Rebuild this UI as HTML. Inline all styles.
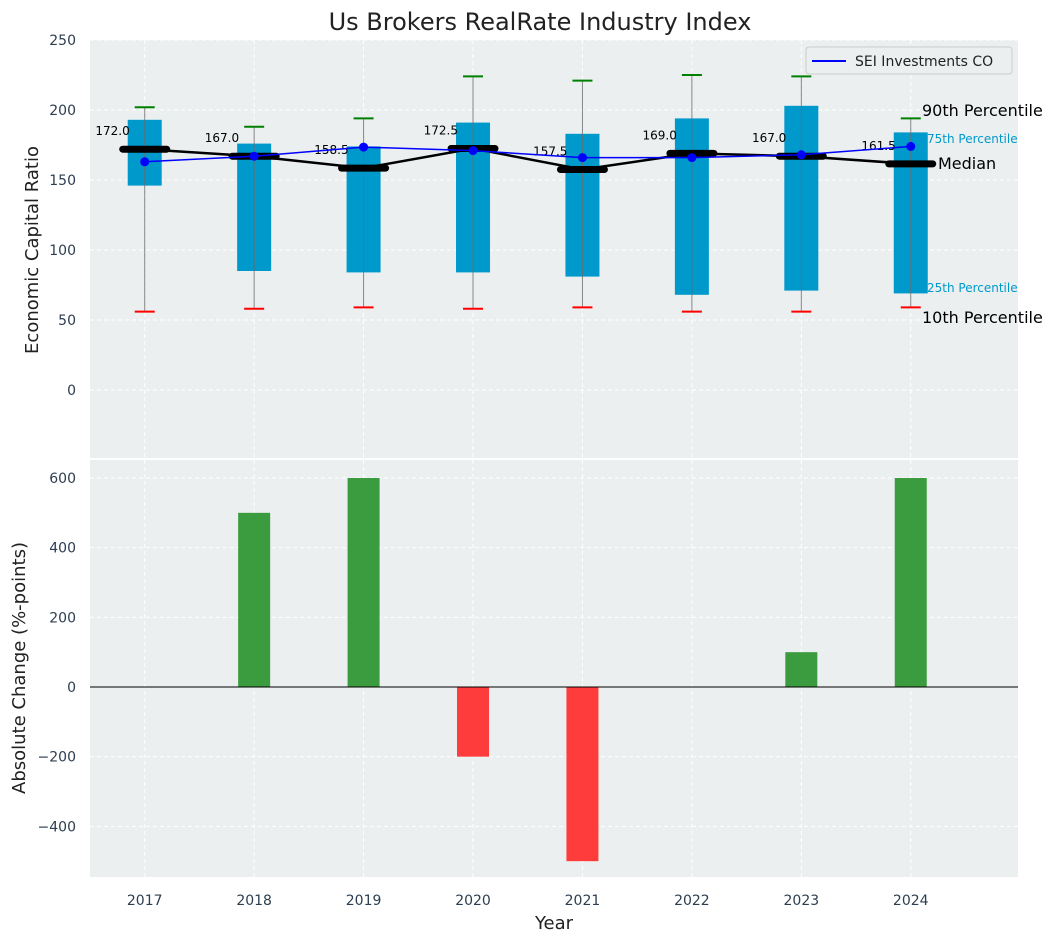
<!DOCTYPE html>
<html><head><meta charset="utf-8"><style>
body{margin:0;background:#fff;font-family:"DejaVu Sans","Liberation Sans",sans-serif;}
svg text{font-family:"DejaVu Sans","Liberation Sans",sans-serif;}
</style></head><body>
<svg id="c" width="1057" height="942" xmlns="http://www.w3.org/2000/svg">
<text x="540" y="30" font-size="24" text-anchor="middle" fill="#222">Us Brokers RealRate Industry Index</text>
<rect x="90" y="40" width="928" height="418" fill="#ebeff0"/>
<rect x="90" y="460" width="928" height="417" fill="#ebeff0"/>
<g id="gtop"></g><g id="gbot"></g>
<text x="38" y="250" font-size="18" fill="#222" text-anchor="middle" transform="rotate(-90 38 250)">Economic Capital Ratio</text>
<text x="25" y="668" font-size="18" fill="#222" text-anchor="middle" transform="rotate(-90 25 668)">Absolute Change (%-points)</text>
<text x="554" y="929" font-size="18" fill="#222" text-anchor="middle">Year</text>
<g>
<rect x="806" y="47" width="206" height="27" fill="#ebeff0" stroke="#ccc" rx="3"/>
<line x1="812" y1="61" x2="846" y2="61" stroke="#0000ff" stroke-width="2"/>
<text x="855" y="66" font-size="14" fill="#222">SEI Investments CO</text>
</g>
<text x="922" y="116" font-size="16" fill="#000">90th Percentile</text>
<text x="927" y="143" font-size="12" fill="#0099cc">75th Percentile</text>
<text x="938" y="169" font-size="16" fill="#000">Median</text>
<text x="927" y="292" font-size="12" fill="#0099cc">25th Percentile</text>
<text x="922" y="323" font-size="16" fill="#000">10th Percentile</text>
</svg>
<script>
const years=[2017,2018,2019,2020,2021,2022,2023,2024];
const p10=[56,58,59,58,59,56,56,59];
const p25=[146,85,84,84,81,68,71,69];
const median=[172.0,167.0,158.5,172.5,157.5,169.0,167.0,161.5];
const p75=[193,176,174,191,183,194,203,184];
const p90=[202,188,194,224,221,225,224,194];
const sei=[163,167,173.5,171,166,166,168,174];
const change=[0,500,600,-200,-500,0,100,600];
const topTicks=[0,50,100,150,200,250];
const botTicks=[-400,-200,0,200,400,600];
const NS='http://www.w3.org/2000/svg';
const X=v=>90+(v-2016.5)*(928/8.48);
const YT=v=>390-v*1.4;
const YB=v=>687-v*(209/600);
function el(p,t,a){const e=document.createElementNS(NS,t);for(const k in a)e.setAttribute(k,a[k]);p.appendChild(e);return e;}
const gT=document.getElementById('gtop'),gB=document.getElementById('gbot');
years.forEach(y=>{
 [[gT,40,458],[gB,460,877]].forEach(([g,a,b])=>{const l=el(g,'line',{x1:X(y),x2:X(y),y1:a,y2:b,stroke:'#fff','stroke-dasharray':'4,3'});
 
 });
 const t=el(gB,'text',{x:X(y),y:905,'font-size':14,fill:'#2c3e50','text-anchor':'middle'});t.textContent=y;
 
 
});
topTicks.forEach(v=>{
 const l=el(gT,'line',{x1:90,x2:1018,y1:YT(v),y2:YT(v),stroke:'#fff','stroke-dasharray':'4,3'});
 
 
 const t=el(gT,'text',{x:76,y:YT(v)+5,'font-size':14,fill:'#2c3e50','text-anchor':'end'});t.textContent=v;
 
 
});
botTicks.forEach(v=>{
 const l=el(gB,'line',{x1:90,x2:1018,y1:YB(v),y2:YB(v),stroke:'#fff','stroke-dasharray':'4,3'});
 
 
 const t=el(gB,'text',{x:76,y:YB(v)+5,'font-size':14,fill:'#2c3e50','text-anchor':'end'});t.textContent=v<0?'\u2212'+(-v):v;
 
 
});
years.forEach((y,i)=>{
 const cx=X(y);
 const b=el(gT,'rect',{x:cx-17,y:YT(p75[i]),width:34,height:YT(p25[i])-YT(p75[i]),fill:'#0099cc'});
 
 
 const w=el(gT,'line',{x1:cx,x2:cx,y1:YT(p90[i]),y2:YT(p10[i]),stroke:'#6a6a6a','stroke-opacity':0.8,'stroke-width':1});
 
 
 const c1=el(gT,'line',{x1:cx-10,x2:cx+10,y1:YT(p90[i]),y2:YT(p90[i]),stroke:'green','stroke-width':2});
 
 
 const c2=el(gT,'line',{x1:cx-10,x2:cx+10,y1:YT(p10[i]),y2:YT(p10[i]),stroke:'red','stroke-width':2});
 
 
});
const ml=el(gT,'polyline',{points:years.map((y,i)=>X(y)+','+YT(median[i])).join(' '),fill:'none',stroke:'#000','stroke-width':2.5});


years.forEach((y,i)=>{
 const m=el(gT,'line',{x1:X(y)-22,x2:X(y)+22,y1:YT(median[i]),y2:YT(median[i]),stroke:'#000','stroke-width':7,'stroke-linecap':'round'});
 
 
 const t=el(gT,'text',{x:X(y)-15,y:YT(median[i])-14,'font-size':12,fill:'#000','text-anchor':'end'});t.textContent=median[i].toFixed(1);
 
 
});
const sl=el(gT,'polyline',{points:years.map((y,i)=>X(y)+','+YT(sei[i])).join(' '),fill:'none',stroke:'#0000ff','stroke-width':1.5});


years.forEach((y,i)=>{
 const p=el(gT,'circle',{cx:X(y),cy:YT(sei[i]),r:4.5,fill:'#0000ff'});
 
 
});
years.forEach((y,i)=>{
 const v=change[i];if(!v)return;
 const a=YB(Math.max(v,0)),b=YB(Math.min(v,0));
 const r=el(gB,'rect',{x:X(y)-16,y:a,width:32,height:b-a,fill:v>0?'#3a9c3e':'#ff3c3c'});
 
 
});
const z=el(gB,'line',{x1:90,x2:1018,y1:YB(0),y2:YB(0),stroke:'#000','stroke-width':1});


</script>
</body></html>
